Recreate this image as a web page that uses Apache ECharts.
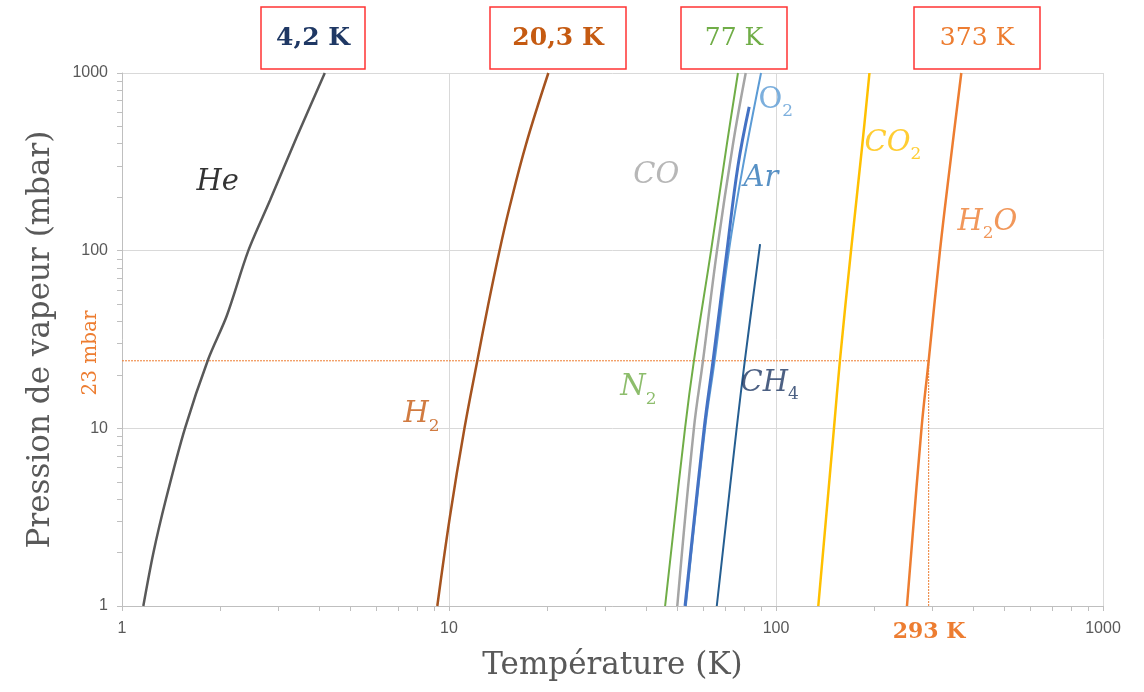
<!DOCTYPE html>
<html><head><meta charset="utf-8">
<script src="https://cdn.jsdelivr.net/npm/echarts@6/dist/echarts.min.js"></script>
<style>html,body{margin:0;padding:0;background:#fff}#c{width:1144px;height:692px}</style>
</head><body><div id="c"></div>
<script>
// ---- data (temperature K, pressure mbar) ----
const heT = [1.162, 1.248, 1.363, 1.558, 1.835, 2.09, 2.434, 2.836, 3.42, 4.17];
const heP = [1, 2, 4, 10, 24.5, 42.9, 100, 192, 435, 1000];
const h2T = [9.21, 10.07, 11.15, 12.23, 13.16, 14.27, 15.31, 17.2, 20.13];
const h2P = [1, 3.2, 10, 24.5, 49, 100, 175, 397, 1000];
const n2T = [45.8, 52.7, 56.1, 63.3, 70.8, 76.5];
const n2P = [1, 10, 24, 100, 400, 1000];
const coT = [49.9, 56.1, 59.8, 66.0, 73.9, 80.8];
const coP = [1, 10, 24, 100, 400, 1000];
const arT = [52.7, 60.3, 64.2, 70.8, 76.5, 82.8];
const arP = [1, 10, 24, 100, 300, 645];
const o2T = [53.0, 60.7, 64.9, 71.8, 79.3, 90.0];
const o2P = [1, 10, 24, 100, 300, 1000];
const ch4T = [65.9, 75.8, 80.4, 89.4];
const ch4P = [1, 10, 24.5, 109];
const co2T = [134.7, 150.4, 157, 169.6, 183.2, 193.1];
const co2P = [1, 10, 24.5, 100, 379, 1000];
const h2oT = [251.5, 278.6, 293, 317.3, 340.5, 368.7];
const h2oP = [1, 10, 24, 100, 302, 1000];
const refT = 293;          // K
const refP = 24;           // mbar (line as drawn)
const refLabel = '23 mbar';
const axisMin = 1, axisMax = 1000;
const minorTickValues = [2,3,4,5,6,7,8,9,20,30,40,50,60,70,80,90,200,300,400,500,600,700,800,900];
// curve labels
const labelKeys = ['He','H2','N2','CO','O2','Ar','CH4','CO2','H2O'];
const labelT = [1.684, 7.23, 33.3, 36.5, 88.1, 79.3, 77.6, 185.8, 357.7];
const labelP = [243, 11.9, 16.9, 266, 704, 256, 18, 403, 145];
const boxTexts = ['4,2 K', '20,3 K', '77 K', '373 K'];

const SERIF = "'DejaVu Serif', 'Liberation Serif', serif";
const SANS = "'Liberation Sans', Arial, sans-serif";
const zip = (a, b) => a.map((v, i) => [v, b[i]]);

function curve(name, T, P, color, width, smooth) {
  return { name, type: 'line', data: zip(T, P), showSymbol: false, symbol: 'none',
    smooth: smooth, lineStyle: { color, width }, z: 3, silent: true };
}

const labelStyles = {
  He:  { color: '#000000', text: '{i|He}' },
  H2:  { color: '#C55A11', text: '{i|H}{s|2}' },
  N2:  { color: '#70AD47', text: '{i|N}{s|2}' },
  CO:  { color: '#A5A5A5', text: '{i|CO}' },
  O2:  { color: '#5B9BD5', text: '{u|O}{s|2}' },
  Ar:  { color: '#2E75B6', text: '{i|Ar}' },
  CH4: { color: '#1F3864', text: '{i|CH}{s|4}' },
  CO2: { color: '#FFC000', text: '{i|CO}{s|2}' },
  H2O: { color: '#ED7D31', text: '{i|H}{s|2}{i|O}' }
};

const labelData = labelKeys.map((k, i) => {
  const st = labelStyles[k];
  return {
    value: [labelT[i], labelP[i]],
    label: {
      show: true, position: 'right', distance: 0, formatter: st.text,
      rich: {
        i: { fontFamily: SERIF, fontStyle: 'italic', fontSize: 29, color: st.color, lineHeight: 40, verticalAlign: 'middle' },
        u: { fontFamily: SERIF, fontSize: 29, color: st.color, lineHeight: 40, verticalAlign: 'middle' },
        s: { fontFamily: SERIF, fontSize: 17, color: st.color, lineHeight: 14, verticalAlign: 'bottom' }
      }
    }
  };
});

const tickFmt = v => String(Math.round(v));

const option = {
  animation: false,
  backgroundColor: '#ffffff',
  grid: { left: 122, right: 41, top: 73, bottom: 86 },
  xAxis: [{
    type: 'log', logBase: 10, min: axisMin, max: axisMax,
    name: 'Température (K)', nameLocation: 'middle', nameGap: 44,
    nameTextStyle: { fontFamily: SERIF, fontSize: 31, color: '#595959' },
    axisLine: { show: true, lineStyle: { color: '#BFBFBF', width: 1 } },
    axisTick: { show: true, length: 5, lineStyle: { color: '#BFBFBF' } },
    axisLabel: { color: '#595959', fontSize: 16, fontFamily: SANS, margin: 15, formatter: tickFmt },
    splitLine: { show: true, lineStyle: { color: '#D9D9D9', width: 1 } }
  }, {
    type: 'log', logBase: 10, min: axisMin, max: axisMax, position: 'bottom',
    axisLine: { show: false }, axisLabel: { show: false }, splitLine: { show: false },
    axisTick: { show: true, length: 5, customValues: minorTickValues, lineStyle: { color: '#BFBFBF' } }
  }],
  yAxis: [{
    type: 'log', logBase: 10, min: axisMin, max: axisMax,
    name: 'Pression de vapeur (mbar)', nameLocation: 'middle', nameGap: 66,
    nameTextStyle: { fontFamily: SERIF, fontSize: 31, color: '#595959' },
    axisLine: { show: true, lineStyle: { color: '#BFBFBF', width: 1 } },
    axisTick: { show: true, length: 5, lineStyle: { color: '#BFBFBF' } },
    axisLabel: { color: '#595959', fontSize: 16, fontFamily: SANS, margin: 14, formatter: tickFmt },
    splitLine: { show: true, lineStyle: { color: '#D9D9D9', width: 1 } }
  }, {
    type: 'log', logBase: 10, min: axisMin, max: axisMax, position: 'left',
    axisLine: { show: false }, axisLabel: { show: false }, splitLine: { show: false },
    axisTick: { show: true, length: 5, customValues: minorTickValues, lineStyle: { color: '#BFBFBF' } }
  }],
  series: [
    { name: 'ref-h', type: 'line', data: [[axisMin, refP], [refT, refP]], symbol: 'none', silent: true,
      lineStyle: { color: '#ED7D31', width: 1, type: [2, 1] }, z: 2 },
    { name: 'ref-v', type: 'line', data: [[refT, axisMin], [refT, refP]], symbol: 'none', silent: true,
      lineStyle: { color: '#ED7D31', width: 1, type: [2, 1] }, z: 2 },
    curve('He', heT, heP, '#595959', 2.5, 0.3),
    curve('H2', h2T, h2P, '#A5531F', 2.5, 0.4),
    curve('N2', n2T, n2P, '#70AD47', 2, 0.4),
    curve('CO', coT, coP, '#A5A5A5', 2.5, 0.4),
    curve('O2', o2T, o2P, '#5B9BD5', 2, 0.4),
    curve('Ar', arT, arP, '#4472C4', 3, 0.4),
    curve('CH4', ch4T, ch4P, '#255E91', 2, 0.4),
    curve('CO2', co2T, co2P, '#FFC000', 2.5, 0.4),
    curve('H2O', h2oT, h2oP, '#ED7D31', 2.5, 0.4),
    { name: 'labels', type: 'scatter', data: labelData, symbolSize: 1,
      itemStyle: { color: 'rgba(0,0,0,0)' }, silent: true, z: 5 }
  ],
  graphic: [
    { type: 'rect', shape: { x: 261, y: 7, width: 104, height: 62 }, style: { fill: '#fff', stroke: '#FF3333', lineWidth: 1.5 } },
    { type: 'text', x: 313, y: 38, style: { text: boxTexts[0], font: "bold 25px " + SERIF, fill: '#1F3864', align: 'center', verticalAlign: 'middle' } },
    { type: 'rect', shape: { x: 490, y: 7, width: 136, height: 62 }, style: { fill: '#fff', stroke: '#FF3333', lineWidth: 1.5 } },
    { type: 'text', x: 558, y: 38, style: { text: boxTexts[1], font: "bold 25px " + SERIF, fill: '#C55A11', align: 'center', verticalAlign: 'middle' } },
    { type: 'rect', shape: { x: 681, y: 7, width: 106, height: 62 }, style: { fill: '#fff', stroke: '#FF3333', lineWidth: 1.5 } },
    { type: 'text', x: 734, y: 38, style: { text: boxTexts[2], font: "25px " + SERIF, fill: '#70AD47', align: 'center', verticalAlign: 'middle' } },
    { type: 'rect', shape: { x: 914, y: 7, width: 126, height: 62 }, style: { fill: '#fff', stroke: '#FF3333', lineWidth: 1.5 } },
    { type: 'text', x: 977, y: 38, style: { text: boxTexts[3], font: "25px " + SERIF, fill: '#ED7D31', align: 'center', verticalAlign: 'middle' } },
    { type: 'text', x: 91, y: 353, rotation: Math.PI / 2, style: { text: refLabel, font: "20px " + SERIF, fill: '#ED7D31', align: 'center', verticalAlign: 'middle' } },
    { type: 'text', x: 929, y: 632, style: { text: refT + ' K', font: "bold 22px " + SERIF, fill: '#ED7D31', align: 'center', verticalAlign: 'middle' } }
  ]
};
const chart = echarts.init(document.getElementById('c'), null, { renderer: 'canvas' });
chart.setOption(option);
</script>
</body></html>
